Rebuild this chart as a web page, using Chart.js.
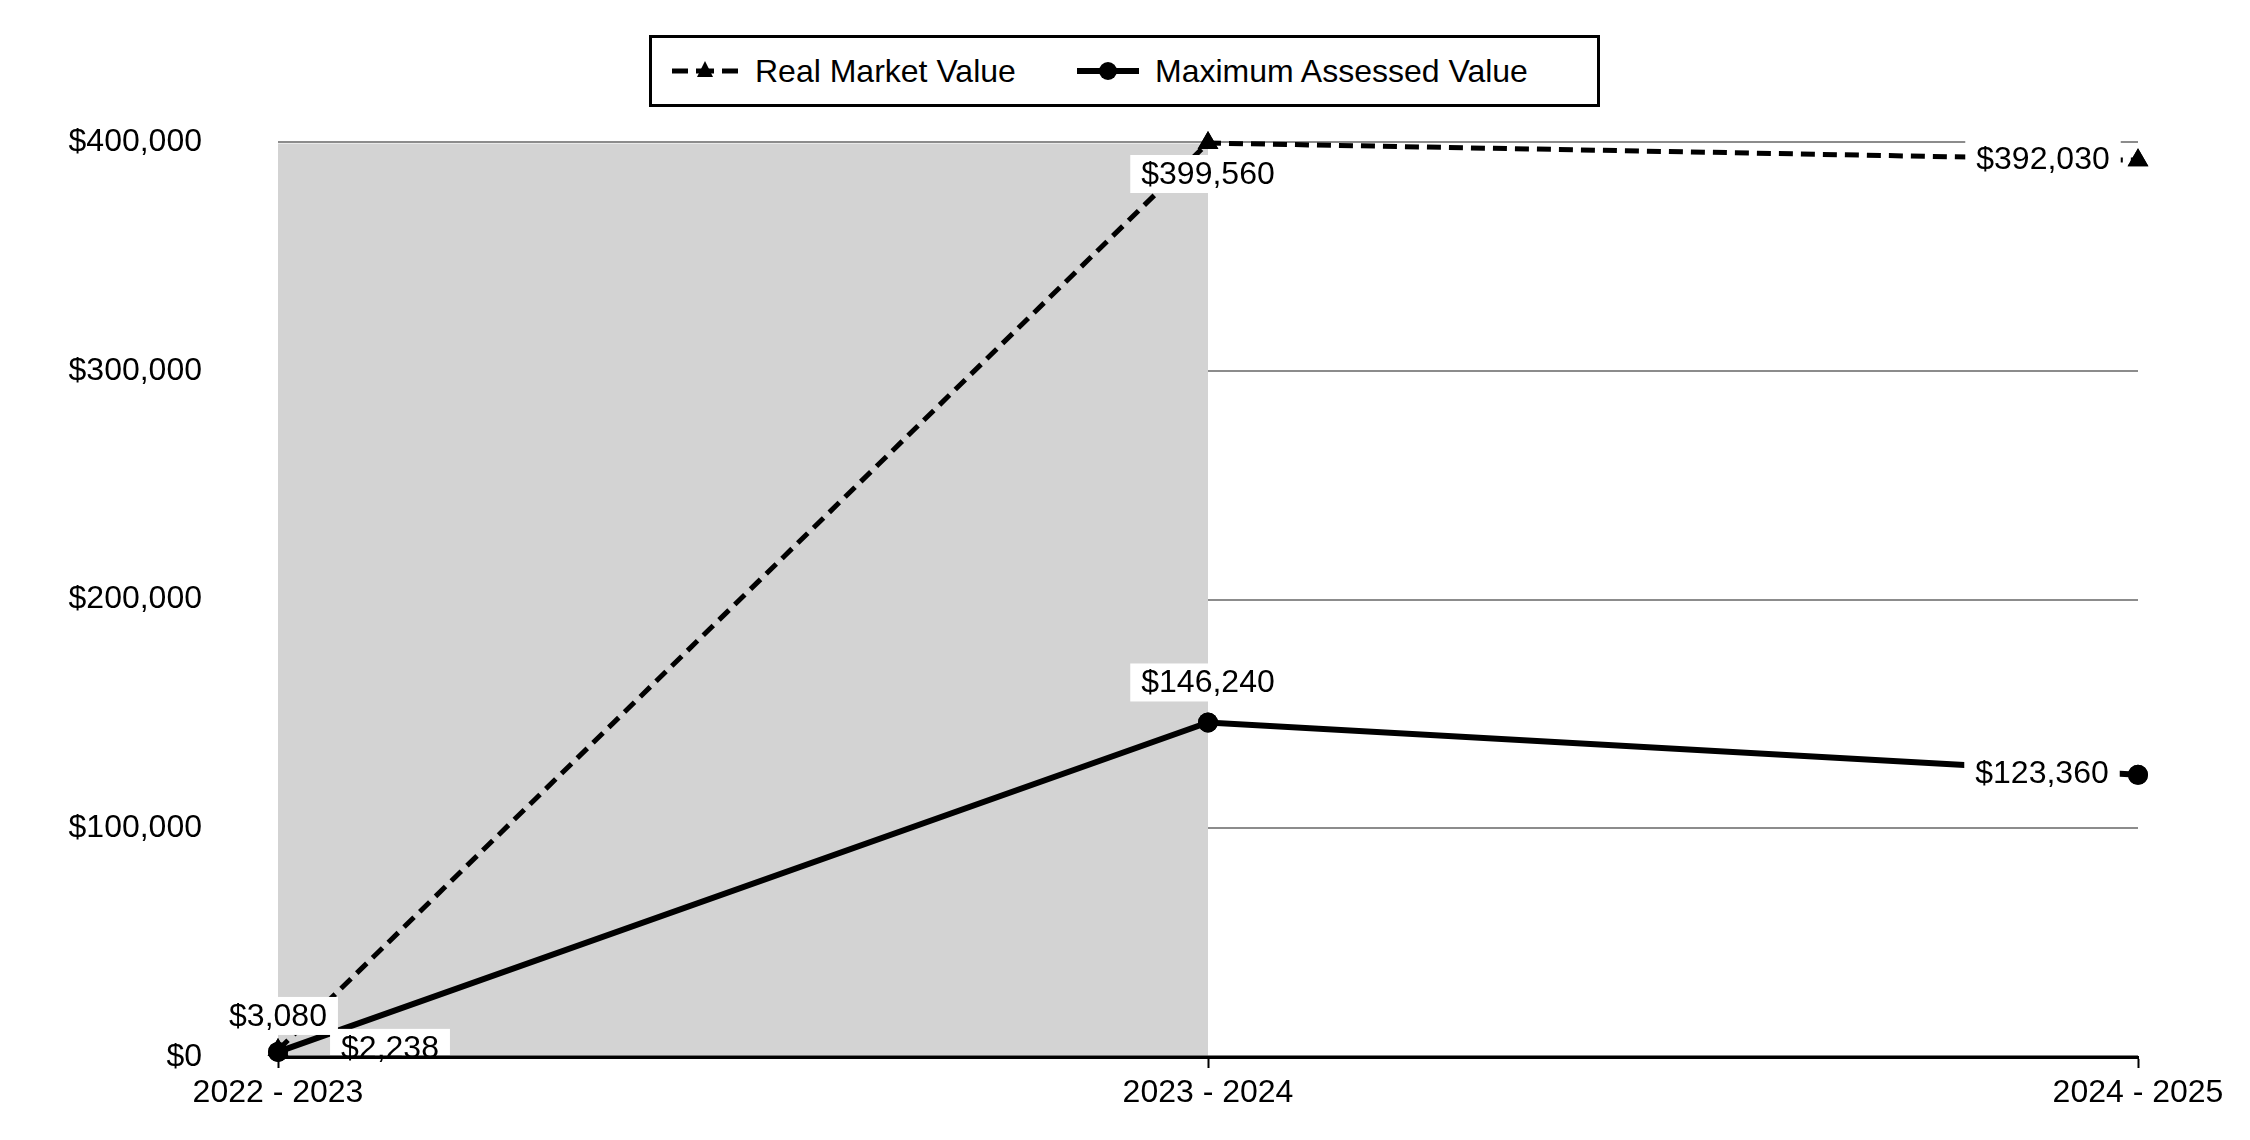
<!DOCTYPE html>
<html>
<head>
<meta charset="utf-8">
<script src="https://cdn.jsdelivr.net/npm/chart.js@4.4.1/dist/chart.umd.min.js"></script>
<style>
  html, body { margin: 0; padding: 0; background: #fff; }
  #wrap { position: relative; width: 2250px; height: 1140px; }
  #chartBox { position: absolute; left: 0; top: 0; width: 2250px; height: 1140px; }
  #legend { position: absolute; left: 649px; top: 35px; width: 951px; height: 72px; box-sizing: border-box; border: 3px solid #000; background: #fff; }
  .lt { position: absolute; top: 14px; font: 32px 'Liberation Sans', Arial, sans-serif; color: #000; line-height: 38px; white-space: nowrap; }
  .ls { position: absolute; top: 18px; }
</style>
</head>
<body>
<div id="wrap">
  <div id="chartBox"><canvas id="c"></canvas></div>
  <div id="legend">
    <svg class="ls" style="left:20px" width="66" height="30" viewBox="0 0 66 30">
      <line x1="0" y1="15" x2="16" y2="15" stroke="#000" stroke-width="5"/>
      <line x1="50" y1="15" x2="66" y2="15" stroke="#000" stroke-width="5"/>
      <line x1="24" y1="15" x2="42" y2="15" stroke="#000" stroke-width="5"/>
      <polygon points="33,5 41,21 25,21" fill="#000"/>
    </svg>
    <div class="lt" style="left:103px">Real Market Value</div>
    <svg class="ls" style="left:425px" width="62" height="30" viewBox="0 0 62 30">
      <line x1="0" y1="15" x2="62" y2="15" stroke="#000" stroke-width="6"/>
      <circle cx="31" cy="15" r="9" fill="#000"/>
    </svg>
    <div class="lt" style="left:503px">Maximum Assessed Value</div>
  </div>
</div>
<script>
// ---- data ----
const categories = ['2022 - 2023', '2023 - 2024', '2024 - 2025'];
const realMarketValue = [3080, 399560, 392030];
const maxAssessedValue = [2238, 146240, 123360];
const yTickValues = [0, 100000, 200000, 300000, 400000];
const shadedUntilIndex = 1;

// label placement (pixel offsets from each point), kept apart from data
const labelOffsets = [
  [[0, -34], [0, 31], [-95, -1]],
  [[112, -4], [0, -40], [-96, -2]]
];

const FONT = "'Liberation Sans', Arial, sans-serif";
const fmt = v => '$' + Number(v).toLocaleString('en-US');

const shadePlugin = {
  id: 'shade',
  beforeDatasetsDraw(chart) {
    const { ctx, chartArea, scales } = chart;
    const x0 = scales.x.getPixelForValue(0);
    const x1 = scales.x.getPixelForValue(shadedUntilIndex);
    ctx.save();
    ctx.fillStyle = '#d3d3d3';
    ctx.fillRect(x0, chartArea.top + 1.5, x1 - x0, chartArea.bottom - chartArea.top - 3);
    ctx.restore();
  }
};

const labelPlugin = {
  id: 'valueLabels',
  afterDatasetsDraw(chart) {
    const ctx = chart.ctx;
    const area = chart.chartArea;
    ctx.save();
    ctx.font = '32px ' + FONT;
    ctx.textAlign = 'center';
    ctx.textBaseline = 'middle';
    chart.data.datasets.forEach((ds, di) => {
      const meta = chart.getDatasetMeta(di);
      meta.data.forEach((pt, i) => {
        const off = labelOffsets[di][i];
        const txt = fmt(ds.data[i]);
        const w = ctx.measureText(txt).width;
        const cx = pt.x + off[0], cy = pt.y + off[1];
        ctx.fillStyle = '#fff';
        const top = cy - 19;
        const bottom = Math.min(cy + 19, area.bottom - 2);
        ctx.fillRect(cx - w / 2 - 11, top, w + 22, bottom - top);
        ctx.fillStyle = '#000';
        ctx.fillText(txt, cx, cy + 1);
      });
    });
    // x axis baseline over the labels
    ctx.strokeStyle = '#000';
    ctx.lineWidth = 3;
    ctx.beginPath();
    ctx.moveTo(area.left, area.bottom);
    ctx.lineTo(area.right, area.bottom);
    ctx.stroke();
    chart.data.datasets.forEach((ds, di) => {
      chart.getDatasetMeta(di).data.forEach(pt => pt.draw(ctx));
    });
    ctx.restore();
  }
};

new Chart(document.getElementById('c'), {
  type: 'line',
  data: {
    labels: categories,
    datasets: [
      {
        label: 'Real Market Value',
        data: realMarketValue,
        borderColor: '#000',
        backgroundColor: '#000',
        borderWidth: 5,
        borderDash: [14, 8],
        pointStyle: 'triangle',
        pointRadius: 12,
        pointBackgroundColor: '#000',
        pointBorderColor: '#000',
        pointBorderWidth: 0,
        tension: 0,
        fill: false,
        clip: false
      },
      {
        label: 'Maximum Assessed Value',
        data: maxAssessedValue,
        borderColor: '#000',
        backgroundColor: '#000',
        borderWidth: 6,
        pointStyle: 'circle',
        pointRadius: 10,
        pointBackgroundColor: '#000',
        pointBorderColor: '#000',
        pointBorderWidth: 0,
        tension: 0,
        fill: false,
        clip: false
      }
    ]
  },
  options: {
    responsive: true,
    maintainAspectRatio: false,
    devicePixelRatio: 1,
    animation: false,
    layout: { padding: { top: 142, right: 112, bottom: 0, left: 0 } },
    plugins: { legend: { display: false }, tooltip: { enabled: false } },
    scales: {
      x: {
        type: 'category',
        offset: false,
        afterFit: s => { s.height = 83; },
        grid: { display: true, drawOnChartArea: false, drawTicks: true, tickLength: 11, tickColor: '#000', tickWidth: 2 },
        border: { display: true, color: '#000', width: 3 },
        ticks: { font: { family: FONT, size: 32 }, color: '#000', padding: 6, maxRotation: 0, autoSkip: false }
      },
      y: {
        min: 0,
        max: 400000,
        afterFit: s => { s.width = 278; },
        afterBuildTicks: s => { s.ticks = yTickValues.map(v => ({ value: v })); },
        grid: {
          drawTicks: true,
          tickLength: 76,
          tickColor: 'rgba(0,0,0,0)',
          lineWidth: 2,
          color: ctx => (ctx.tick && ctx.tick.value === 0) ? 'rgba(0,0,0,0)' : '#8c8c8c'
        },
        border: { display: false },
        ticks: {
          font: { family: FONT, size: 32 },
          color: '#000',
          padding: 0,
          callback: v => fmt(v)
        }
      }
    }
  },
  plugins: [shadePlugin, labelPlugin]
});
</script>
</body>
</html>
